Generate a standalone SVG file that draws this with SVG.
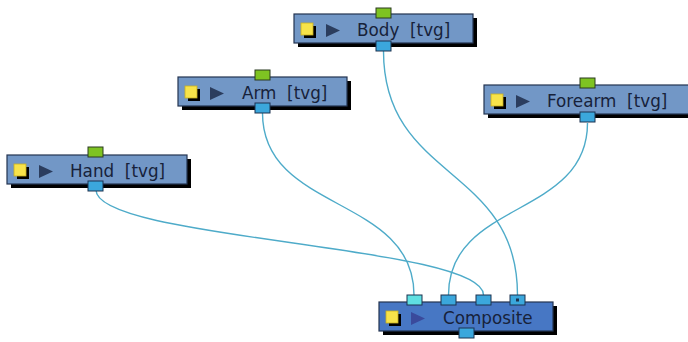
<svg xmlns="http://www.w3.org/2000/svg" width="688" height="342" viewBox="0 0 688 342">
<style>
.shadow{fill:#000}
.box{fill:#7297c6;stroke:#243450;stroke-width:1.2}
.cbox{fill:#4777c4;stroke:#243450;stroke-width:1.2}
.ysh{fill:#000}
.ysq{fill:#f7e34a;stroke:#c8b020;stroke-width:0.8}
.tri{fill:#2b3d5e}
.ctri{fill:#3a4a9c}
.lbl{font-family:"DejaVu Sans",Verdana,sans-serif;font-size:16.8px;fill:#17223a;white-space:pre}
.pg{fill:#7ec322;stroke:#2b3a20;stroke-width:1}
.pb{fill:#3ba7dc;stroke:#1d3350;stroke-width:1}
.pc{fill:#5fe0e2;stroke:#1d3350;stroke-width:1}
.wire{fill:none;stroke:#4eabc9;stroke-width:1.4}
</style>
<rect width="688" height="342" fill="#fff"/>
<g id="connectors">
<path class="wire" d="M96,190 C96,240 483.5,245 483.5,295"/>
<path class="wire" d="M262.5,113 C262.5,213 414,195 414,295"/>
<path class="wire" d="M383.5,51 C383.5,181 517.5,165 517.5,295"/>
<path class="wire" d="M587.5,123 C587.5,218 448.5,200 448.5,295"/>
</g>
<g id="body">
<rect class="shadow" x="298" y="18" width="179" height="29"/>
<rect class="box" x="294" y="14" width="179" height="29"/>
<rect class="ysh" x="304" y="26" width="12" height="12"/>
<rect class="ysq" x="301" y="23" width="12" height="12"/>
<polygon class="tri" points="326,24 326,37 340,30.5"/>
<text class="lbl" x="357" y="36">Body  [tvg]</text>
<rect class="pg" x="376" y="8" width="15" height="10"/>
<rect class="pb" x="376" y="41" width="15" height="10"/>
</g>
<g id="arm">
<rect class="shadow" x="182" y="81" width="169" height="29"/>
<rect class="box" x="178" y="77" width="169" height="29"/>
<rect class="ysh" x="188" y="89" width="12" height="12"/>
<rect class="ysq" x="185" y="86" width="12" height="12"/>
<polygon class="tri" points="210,87 210,100 224,93.5"/>
<text class="lbl" x="242" y="99">Arm  [tvg]</text>
<rect class="pg" x="255" y="70" width="15" height="10"/>
<rect class="pb" x="255" y="103" width="15" height="10"/>
</g>
<g id="hand">
<rect class="shadow" x="11" y="159" width="180" height="29"/>
<rect class="box" x="7" y="155" width="180" height="29"/>
<rect class="ysh" x="17" y="167" width="12" height="12"/>
<rect class="ysq" x="14" y="164" width="12" height="12"/>
<polygon class="tri" points="39,165 39,178 53,171.5"/>
<text class="lbl" x="70" y="177">Hand  [tvg]</text>
<rect class="pg" x="88" y="147" width="15" height="10"/>
<rect class="pb" x="88" y="181" width="15" height="10"/>
</g>
<g id="forearm">
<rect class="shadow" x="488" y="89" width="210" height="29"/>
<rect class="box" x="484" y="85" width="210" height="29"/>
<rect class="ysh" x="494" y="97" width="12" height="12"/>
<rect class="ysq" x="491" y="94" width="12" height="12"/>
<polygon class="tri" points="516,95 516,108 530,101.5"/>
<text class="lbl" x="547" y="107">Forearm  [tvg]</text>
<rect class="pg" x="580" y="78" width="15" height="10"/>
<rect class="pb" x="580" y="112" width="15" height="10"/>
</g>
<g id="composite">
<rect class="shadow" x="383" y="306" width="174" height="29"/>
<rect class="cbox" x="379" y="302" width="174" height="29"/>
<rect class="ysh" x="389" y="314" width="12" height="12"/>
<rect class="ysq" x="386" y="311" width="12" height="12"/>
<polygon class="ctri" points="411,312 411,325 425,318.5"/>
<text class="lbl" x="443" y="324">Composite</text>
<rect class="pc" x="407" y="295" width="15" height="10"/>
<rect class="pb" x="441" y="295" width="15" height="10"/>
<rect class="pb" x="476" y="295" width="15" height="10"/>
<rect class="pb" x="510" y="295" width="15" height="10"/>
<rect x="516" y="298.5" width="3" height="3" fill="#1d3350"/>
<rect class="pb" x="459" y="328" width="15" height="10"/>
</g>
</svg>
